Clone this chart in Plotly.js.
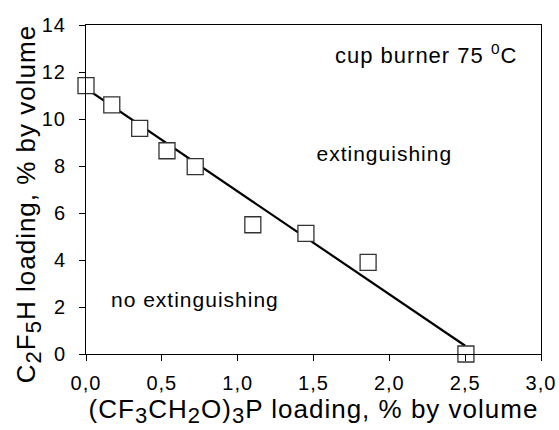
<!DOCTYPE html>
<html>
<head>
<meta charset="utf-8">
<script src="https://cdn.plot.ly/plotly-3.0.1.min.js"></script>
<style>
html,body{margin:0;padding:0;background:#fff}
#chart{width:559px;height:430px}
#chart svg text{letter-spacing:1px}
</style>
</head>
<body>
<div id="chart"></div>
<script>
// Data
const pointX = [0.0, 0.17, 0.354, 0.534, 0.72, 1.10, 1.45, 1.86, 2.505];
const pointY = [11.42, 10.6, 9.6, 8.65, 7.97, 5.5, 5.13, 3.9, 0.0];
const fitX = [0.0, 2.5];
const fitY = [11.3, 0.35];
const xTicks = [0, 0.5, 1.0, 1.5, 2.0, 2.5, 3.0];
const yTicks = [0, 2, 4, 6, 8, 10, 12, 14];

const sub = s => '<sub><span style="font-size:22px">' + s + '</span></sub>';
const xTitle = '(CF' + sub('3') + 'CH' + sub('2') + 'O)' + sub('3') + 'P loading, % by volume';
const yTitle = 'C' + sub('2') + 'F' + sub('5') + 'H loading, % by volume';
const labels = {
  burner: 'cup burner 75 <sup>0</sup>C',
  ext: 'extinguishing',
  noext: 'no extinguishing'
};
const labelPos = { burner: [2.24, 12.77], ext: [1.97, 8.55], noext: [0.72, 2.3] };

const font = 'Liberation Sans, Arial, sans-serif';

const traces = [
  {
    x: fitX, y: fitY, mode: 'lines', type: 'scatter',
    line: { color: '#000', width: 2.2 }, hoverinfo: 'skip', showlegend: false
  },
  {
    x: pointX, y: pointY, mode: 'markers', type: 'scatter',
    marker: { symbol: 'square', size: 16, color: '#fff', line: { color: '#333', width: 1.3 } },
    showlegend: false, cliponaxis: false
  }
];

const layout = {
  width: 559, height: 430,
  margin: { l: 86, r: 18, t: 25, b: 76 },
  paper_bgcolor: '#fff', plot_bgcolor: '#fff',
  separators: ',.',
  font: { family: font, color: '#000' },
  showlegend: false,
  xaxis: {
    range: [0, 3], tickvals: xTicks, tickformat: '.1f',
    showgrid: false, zeroline: false,
    showline: true, linecolor: '#000', linewidth: 1, mirror: true,
    ticks: 'outside', ticklen: 6, tickcolor: '#000', tickwidth: 1,
    ticklabelstandoff: 5,
    tickfont: { size: 20, family: font },
    title: { text: xTitle, font: { size: 26, family: font }, standoff: 2 }
  },
  yaxis: {
    range: [0, 14], tickvals: yTicks,
    showgrid: false, zeroline: false,
    showline: true, linecolor: '#000', linewidth: 1, mirror: true,
    ticks: 'outside', ticklen: 6, tickcolor: '#000', tickwidth: 1,
    ticklabelstandoff: 9,
    tickfont: { size: 20, family: font }
  },
  annotations: [
    { xref: 'paper', yref: 'paper', x: -0.127, y: 0.456, xanchor: 'center', yanchor: 'middle', textangle: -90, text: yTitle, showarrow: false, font: { size: 26, family: font } },
    { x: labelPos.burner[0], y: labelPos.burner[1], text: labels.burner, showarrow: false, font: { size: 22, family: font } },
    { x: labelPos.ext[0], y: labelPos.ext[1], text: labels.ext, showarrow: false, font: { size: 21, family: font } },
    { x: labelPos.noext[0], y: labelPos.noext[1], text: labels.noext, showarrow: false, font: { size: 21, family: font } }
  ]
};

Plotly.newPlot('chart', traces, layout, { displayModeBar: false, staticPlot: true });
</script>
</body>
</html>
